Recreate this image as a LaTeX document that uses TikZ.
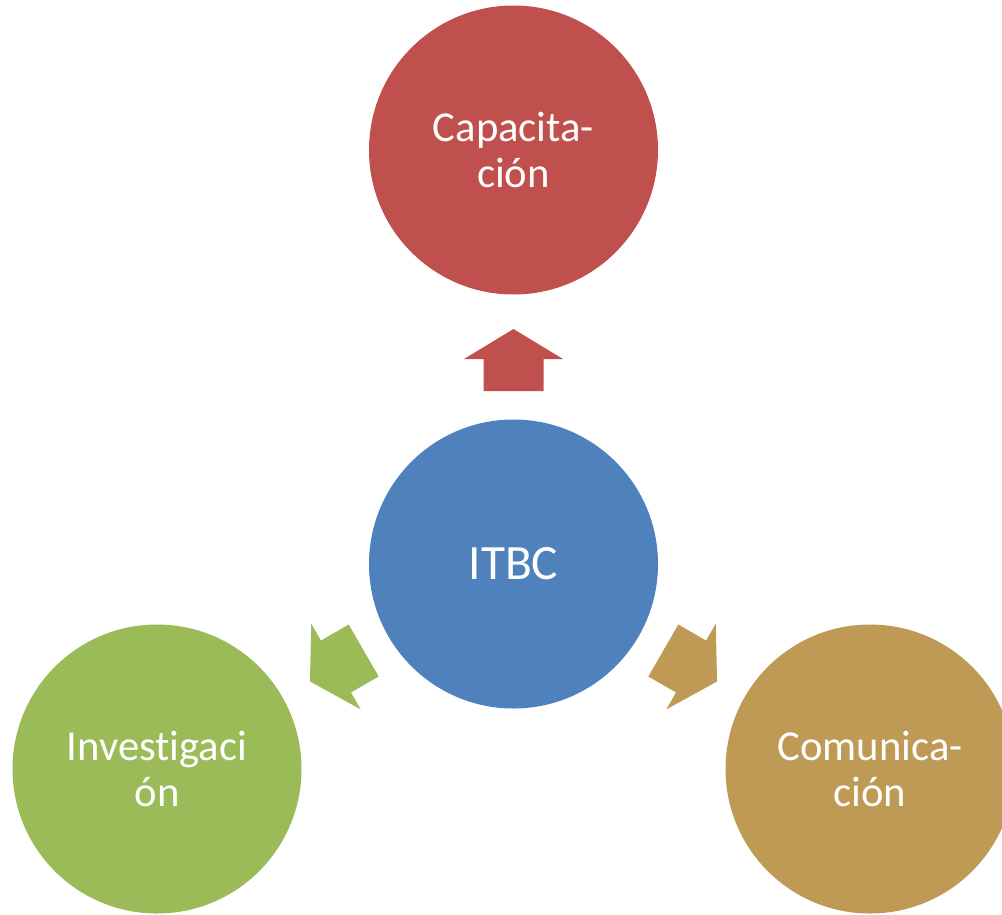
\documentclass[tikz,border=0pt]{standalone}
\usepackage{fontspec}
\setmainfont{Carlito}[Ligatures=NoCommon]
\definecolor{cred}{HTML}{C0504D}
\definecolor{cblue}{HTML}{4F81BD}
\definecolor{cgreen}{HTML}{9BBB59}
\definecolor{ctan}{HTML}{BE9A54}
\tikzset{
  bubble/.style={circle, minimum size=216.75pt, inner sep=0pt, text=white, align=center,
    font=\fontsize{32}{35}\selectfont}
}
\newcommand{\radarrow}[3]{%
  \begin{scope}[shift={(#1.center)}, rotate=#2]
    \fill[#3] (173,-30) -- (205,-30) -- (205,-49.5) -- (235,0) -- (205,49.5) -- (205,30) -- (173,30) -- cycle;
  \end{scope}}
\begin{document}
\begin{tikzpicture}[x=0.75pt,y=-0.75pt]
  \useasboundingbox (0,0) rectangle (1002,914);
  \clip (0,0) rectangle (1002,914);
  \node[bubble, fill=cblue, font=\fontsize{37}{40}\selectfont] (c) at (513.5,564) {ITBC};
  \node[bubble, fill=cred] (t) at (513.5,150) {Capacita-\\ción};
  \node[bubble, fill=cgreen] (l) at (157,769) {Investigaci\\ón};
  \node[bubble, fill=ctan] (r) at (870,769) {Comunica-\\ción};
  \radarrow{c}{90}{cred}
  \radarrow{c}{210}{cgreen}
  \radarrow{c}{330}{ctan}
\end{tikzpicture}
\end{document}
